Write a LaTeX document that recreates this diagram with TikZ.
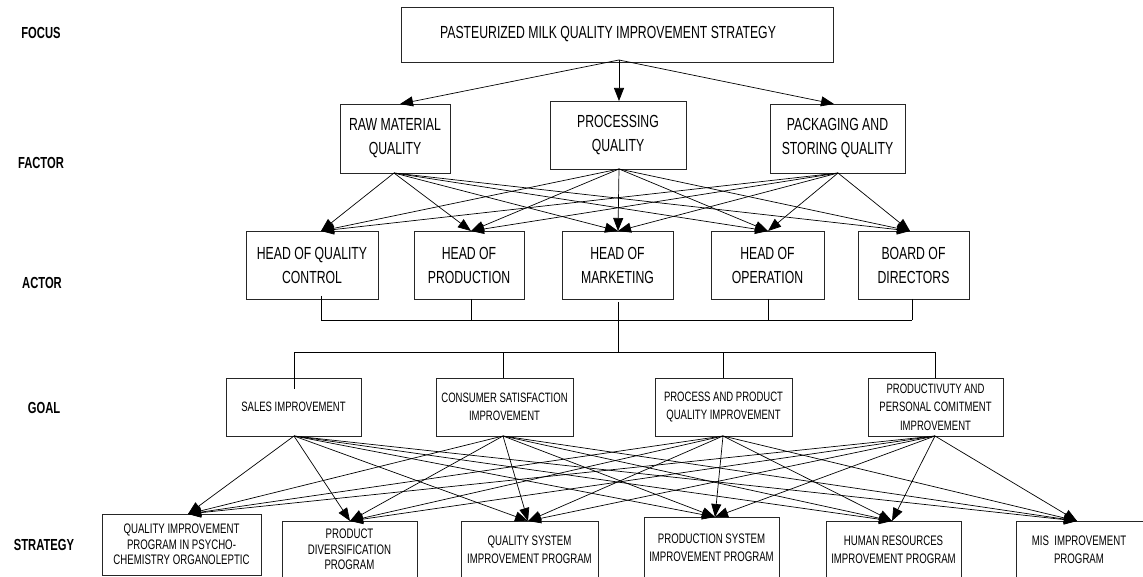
\documentclass[tikz,border=0pt]{standalone}
\usepackage{fontspec}
\setmainfont[FakeStretch=0.70]{Liberation Sans}
\usetikzlibrary{arrows.meta,calc}
\begin{document}
\begin{tikzpicture}[x=1pt,y=-1pt,
  box/.style={draw=black!85, line width=0.8pt, inner sep=0pt, align=center},
  big/.style={font=\fontsize{17.5}{24}\selectfont},
  gl/.style={font=\fontsize{13.6}{18.5}\selectfont},
  st/.style={font=\fontsize{13.8}{18}\selectfont},
  stt/.style={font=\fontsize{13.8}{15.5}\selectfont},
  lvl/.style={font=\bfseries\fontsize{16}{18}\selectfont},
  arr/.style={-{Triangle[length=13pt,width=10pt]}, line width=0.7pt},
  bus/.style={line width=0.8pt}]
\useasboundingbox (0,0) rectangle (1143,577);
\clip (0,0) rectangle (1143,577);

% level labels
\node[lvl] (lfocus) at (41,33) {FOCUS};
\node[lvl] (lfactor) at (41,163) {FACTOR};
\node[lvl] (lactor) at (42,283) {ACTOR};
\node[lvl] (lgoal) at (44,408) {GOAL};
\node[lvl] (lstrat) at (44,545) {STRATEGY};

% focus
\node[box,big,minimum width=432,minimum height=55] (focus) at (617,34.5)
  {PASTEURIZED MILK QUALITY IMPROVEMENT STRATEGY\hspace*{18pt}};

% factors
\node[box,big,minimum width=110,minimum height=69] (raw) at (395,138.5) {RAW MATERIAL\\QUALITY};
\node[box,big,minimum width=136,minimum height=68] (proc) at (618,135) {PROCESSING\\QUALITY};
\node[box,big,minimum width=135,minimum height=69] (pack) at (837.5,138.5) {PACKAGING AND\\STORING QUALITY};

% actors
\node[box,big,minimum width=132,minimum height=68] (hqc) at (312,265) {HEAD OF QUALITY\\CONTROL};
\node[box,big,minimum width=110,minimum height=68] (hop) at (469,265) {HEAD OF\\PRODUCTION};
\node[box,big,minimum width=111,minimum height=68] (hom) at (617.5,265) {HEAD OF\\MARKETING};
\node[box,big,minimum width=113,minimum height=68] (hoo) at (767.5,265) {HEAD OF\\OPERATION};
\node[box,big,minimum width=111,minimum height=68] (bod) at (913.5,265) {BOARD OF\\DIRECTORS};

% goals
\node[box,gl,minimum width=135,minimum height=58] (sales) at (293.5,407) {SALES IMPROVEMENT};
\node[box,gl,minimum width=137,minimum height=58] (cons) at (504.5,407) {CONSUMER SATISFACTION\\IMPROVEMENT};
\node[box,gl,minimum width=137,minimum height=58] (qual) at (723.5,407) {PROCESS AND PRODUCT\\QUALITY IMPROVEMENT};
\node[box,gl,minimum width=135,minimum height=58] (prod) at (935.5,407) {PRODUCTIVUTY AND\\PERSONAL COMITMENT\\IMPROVEMENT};

% strategies
\node[box,stt,minimum width=159,minimum height=61] (qip) at (181.5,544.5) {QUALITY IMPROVEMENT\\PROGRAM IN PSYCHO-\\CHEMISTRY ORGANOLEPTIC};
\node[box,stt,minimum width=135,minimum height=57] (pdp) at (349.5,549.5) {PRODUCT\\DIVERSIFICATION\\PROGRAM};
\node[box,st,minimum width=137,minimum height=57] (qsip) at (529.5,549.5) {QUALITY SYSTEM\\IMPROVEMENT PROGRAM};
\node[box,st,minimum width=135,minimum height=61] (psip) at (711.5,547.5) {PRODUCTION SYSTEM\\IMPROVEMENT PROGRAM};
\node[box,st,minimum width=135,minimum height=57] (hrip) at (893.5,549.5) {HUMAN RESOURCES\\IMPROVEMENT PROGRAM};
\node[box,st,minimum width=134,minimum height=57] (mis) at (1083,549.5) {MIS\ \ IMPROVEMENT\hspace*{8pt}\\PROGRAM\hspace*{8pt}};

% ports
\coordinate (focus-out) at (619,60);
\coordinate (raw-in) at (400,104);
\coordinate (proc-in) at (619,101);
\coordinate (pack-in) at (834,104);
\coordinate (raw-out) at (394,173);
\coordinate (proc-out) at (619,169);
\coordinate (pack-out) at (838,173);
\coordinate (hqc-in) at (321,231);
\coordinate (hop-in) at (471,231);
\coordinate (hom-in) at (618,231);
\coordinate (hoo-in) at (768,231);
\coordinate (bod-in) at (910,231);
\coordinate (hqc-d) at (321,296);
\coordinate (hop-d) at (471,299);
\coordinate (hom-d) at (618,302);
\coordinate (hoo-d) at (768,299);
\coordinate (bod-d) at (912,299);
\coordinate (abus-l) at (321,320);
\coordinate (abus-r) at (912,320);
\coordinate (gbus-l) at (294,352);
\coordinate (gbus-r) at (935,352);
\coordinate (sales-d) at (294,389);
\coordinate (cons-d) at (503,378);
\coordinate (qual-d) at (723,378);
\coordinate (prod-d) at (935,378);
\coordinate (sales-out) at (294,436);
\coordinate (cons-out) at (503,436);
\coordinate (qual-out) at (723,436);
\coordinate (prod-out) at (935,436);
\coordinate (qip-in) at (188,514);
\coordinate (pdp-in) at (350,521);
\coordinate (qsip-in) at (528,521);
\coordinate (psip-in) at (715,517);
\coordinate (hrip-in) at (892,521);
\coordinate (mis-in) at (1077,521);

% focus -> factors
\foreach \t in {raw-in,proc-in,pack-in}
  \draw[arr] (focus-out) -- (\t);

% factors -> actors
\foreach \s in {raw-out,proc-out,pack-out}
  \foreach \t in {hqc-in,hop-in,hom-in,hoo-in,bod-in}
    \draw[arr] (\s) -- (\t);

% actor bus
\draw[bus] (abus-l) -- (abus-r);
\foreach \d in {hqc-d,hop-d,hoo-d,bod-d}
  \draw[bus] (\d) -- (\d |- abus-l);
\draw[bus] (hom-d) -- (hom-d |- gbus-l);

% goal bus
\draw[bus] (gbus-l) -- (gbus-r);
\foreach \d in {sales-d,cons-d,qual-d,prod-d}
  \draw[bus] (\d |- gbus-l) -- (\d);

% goals -> strategies
\foreach \s in {sales-out,cons-out,qual-out,prod-out}
  \foreach \t in {qip-in,pdp-in,qsip-in,psip-in,hrip-in,mis-in}
    \draw[arr] (\s) -- (\t);
\end{tikzpicture}
\end{document}
